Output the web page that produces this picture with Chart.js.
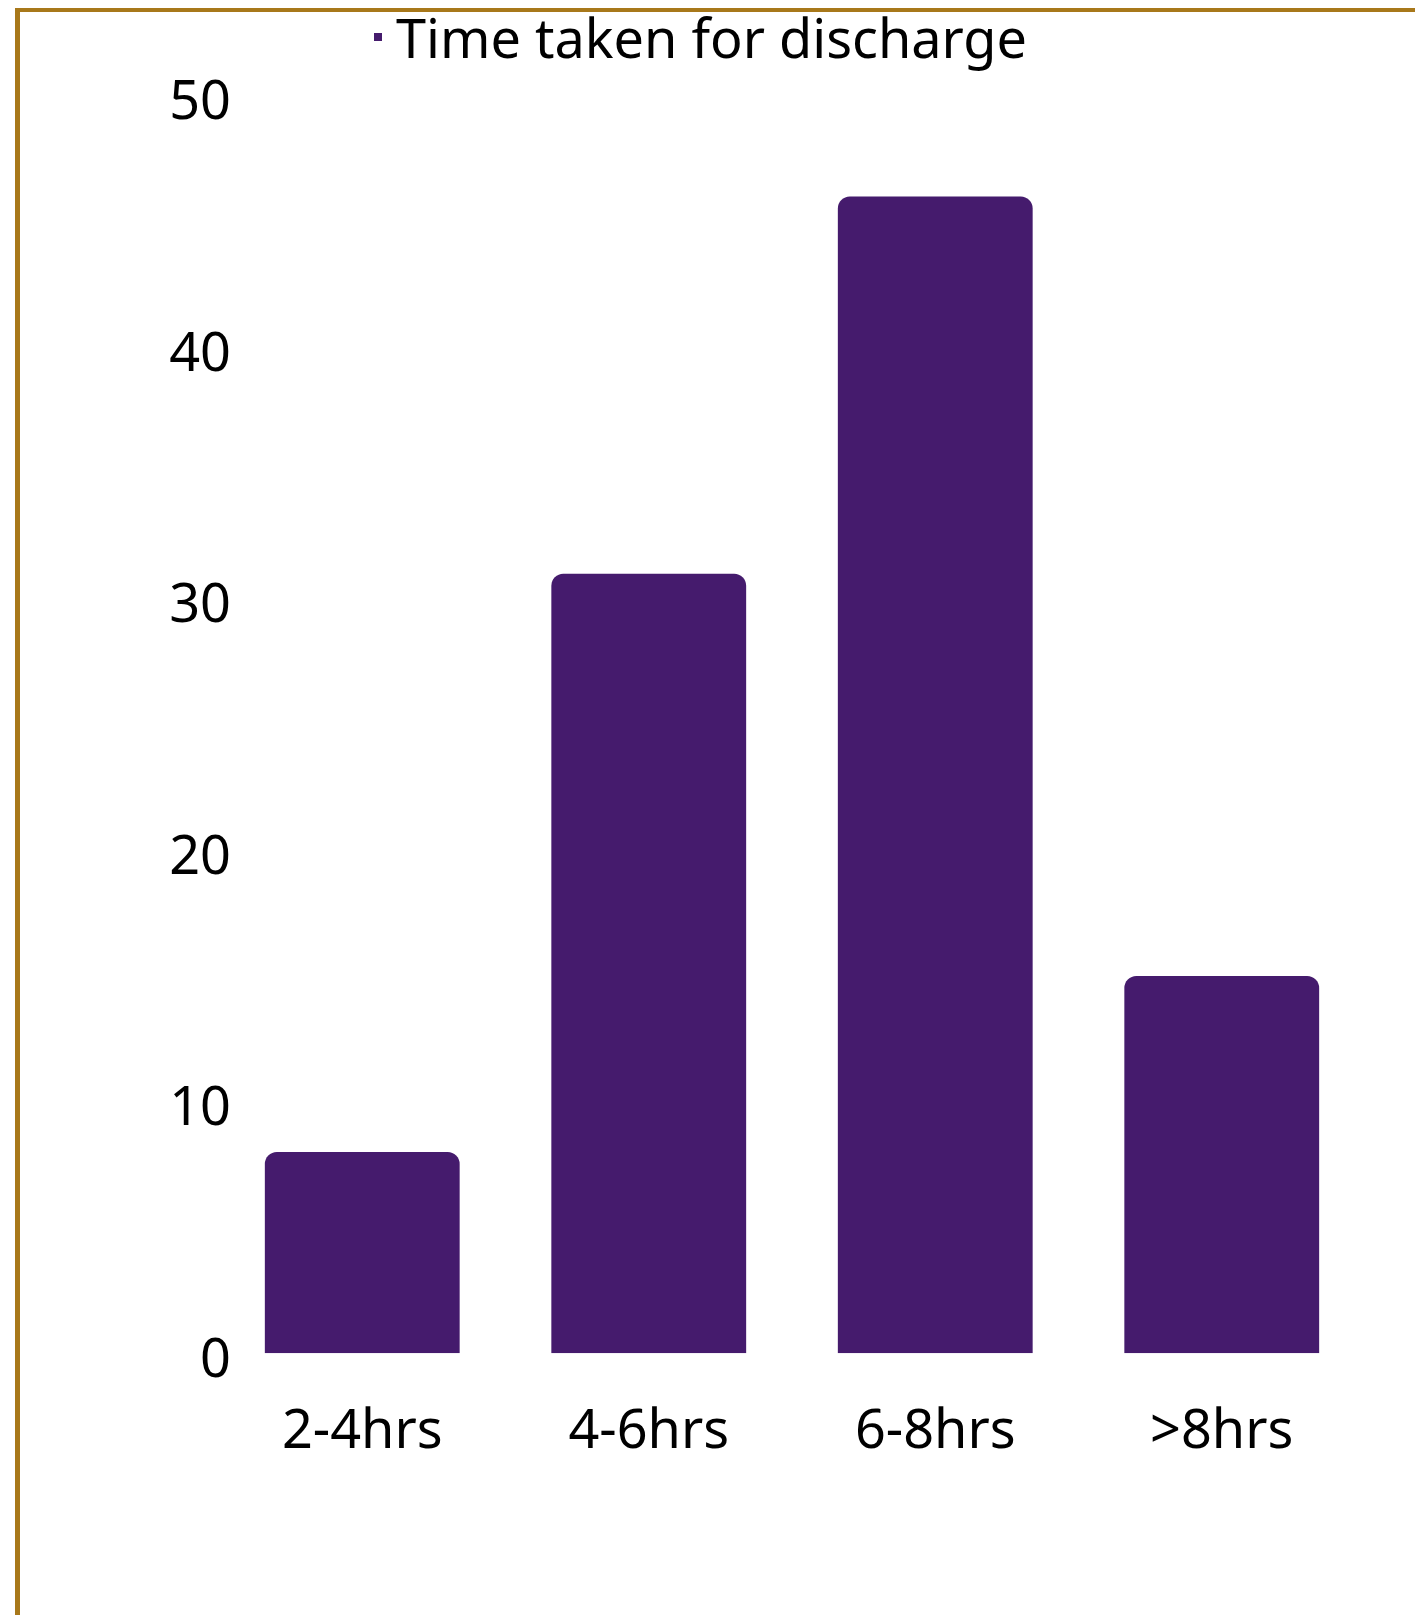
<!DOCTYPE html>
<html>
<head>
<meta charset="utf-8">
<script src="https://cdn.jsdelivr.net/npm/chart.js@4.4.1/dist/chart.umd.min.js"></script>
<style>
  html, body { margin: 0; padding: 0; background: #ffffff; }
  #wrap { position: relative; width: 1415px; height: 1615px; overflow: hidden; background: #fff; }
  #frame { position: absolute; left: 15px; top: 8px; width: 1420px; height: 1620px;
           border-top: 4px solid #A8781A; border-left: 5px solid #A8781A; box-sizing: border-box; pointer-events: none; }
  canvas { position: absolute; left: 0; top: 0; }
</style>
</head>
<body>
<div id="wrap">
  <canvas id="c" width="1415" height="1615"></canvas>
  <div id="frame"></div>
</div>
<script>
const categories = ["2-4hrs", "4-6hrs", "6-8hrs", ">8hrs"];
const seriesName = "Time taken for discharge";
const values = [8, 31, 46, 15];
const yTicks = [0, 10, 20, 30, 40, 50];

const FONT = "'Noto Sans', 'Open Sans', sans-serif";
const BAR = "#451B6D";
const LEGEND_EXTRA = 16;

// legend marker: small square placed at the right/top of a transparent sprite
const marker = document.createElement('canvas');
marker.width = 34; marker.height = 20;
(function () {
  const m = marker.getContext('2d');
  m.fillStyle = BAR;
  m.fillRect(26, 0, 8, 8);
})();

const legendGap = {
  id: 'legendGap',
  beforeLayout(chart) {
    const lg = chart.legend;
    if (lg && !lg._gapPatched) {
      const f = lg.fit;
      lg.fit = function () { f.call(this); this.height += LEGEND_EXTRA; };
      lg._gapPatched = true;
    }
  }
};

new Chart(document.getElementById('c'), {
  type: 'bar',
  data: {
    labels: categories,
    datasets: [{
      label: seriesName,
      data: values,
      backgroundColor: BAR,
      borderWidth: 0,
      borderRadius: 12,
      borderSkipped: 'start',
      categoryPercentage: 0.68,
      barPercentage: 1.0,
      pointStyle: marker
    }]
  },
  plugins: [legendGap],
  options: {
    responsive: false,
    animation: false,
    devicePixelRatio: 1,
    layout: { padding: { left: 23, right: 50, top: 12, bottom: 103 } },
    plugins: {
      legend: {
        display: true,
        position: 'top',
        labels: {
          usePointStyle: true,
          boxWidth: 8,
          boxHeight: 8,
          padding: 4,
          color: '#000',
          font: { family: FONT, size: 54 }
        }
      },
      tooltip: { enabled: false }
    },
    scales: {
      x: {
        grid: { display: false, drawTicks: false },
        border: { display: false },
        ticks: { color: '#000', font: { family: FONT, size: 54 }, padding: 47 }
      },
      y: {
        min: 0,
        max: 50,
        afterBuildTicks: (s) => { s.ticks = yTicks.map(v => ({ value: v })); },
        afterFit: (s) => { s.width = 196; s._computeLabelArea = () => null; },
        grid: { display: false, drawTicks: false },
        border: { display: false },
        ticks: { color: '#000', font: { family: FONT, size: 54 }, padding: -12, labelOffset: 8, stepSize: 10 }
      }
    }
  }
});
</script>
</body>
</html>
